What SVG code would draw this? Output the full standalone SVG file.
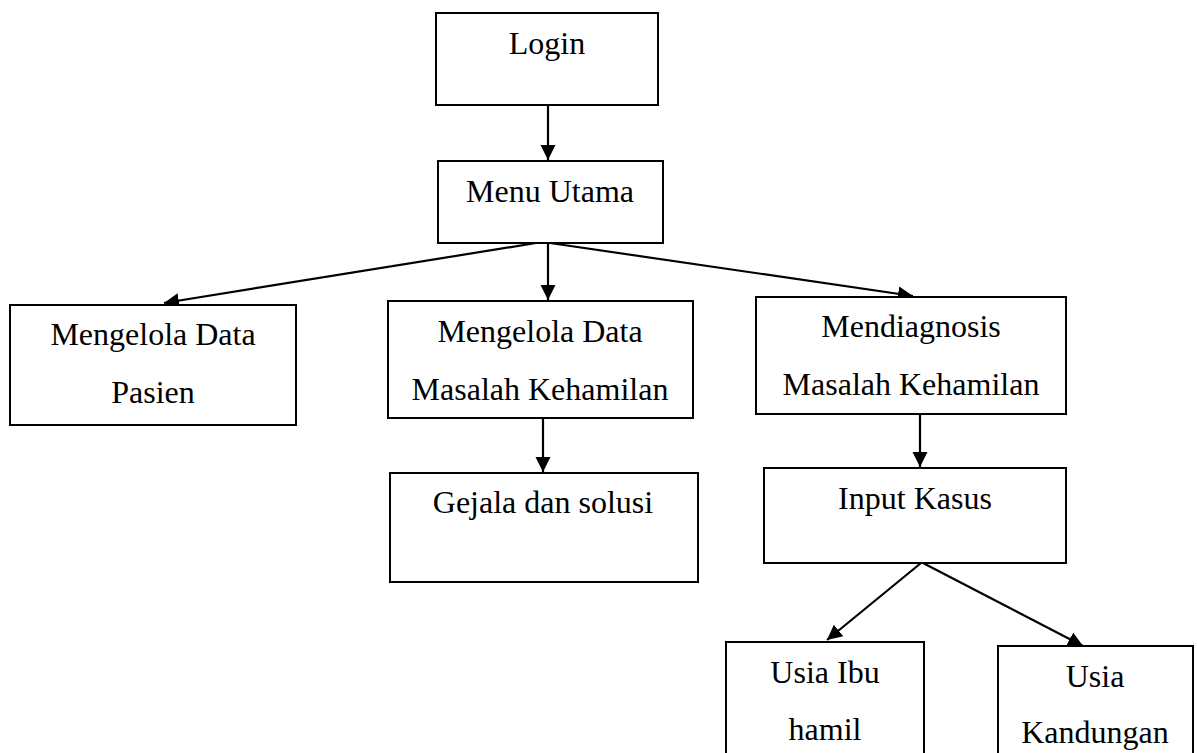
<svg xmlns="http://www.w3.org/2000/svg" width="1197" height="753" viewBox="0 0 1197 753">
<style>
.box{fill:#fff;stroke:#000;stroke-width:2}
.t{font-family:"Liberation Serif","Times New Roman",serif;font-size:32px;fill:#000;text-anchor:middle}
.c{stroke:#000;stroke-width:2.2;fill:none;marker-end:url(#ah)}
</style>
<defs>
<marker id="ah" markerUnits="userSpaceOnUse" markerWidth="16" markerHeight="16" viewBox="0 0 16 16" refX="15" refY="8" orient="auto">
<path d="M0,0.5 L15,8 L0,15.5 Z" fill="#000"/>
</marker>
</defs>
<rect width="1197" height="753" fill="#fff"/>
<g id="connectors">
<line class="c" x1="548" y1="105" x2="548" y2="160"/>
<line class="c" x1="536" y1="243" x2="164" y2="303"/>
<line class="c" x1="548" y1="243" x2="548" y2="300"/>
<line class="c" x1="550" y1="243" x2="913" y2="296"/>
<line class="c" x1="543" y1="418" x2="543" y2="472"/>
<line class="c" x1="920" y1="414" x2="920" y2="467"/>
<line class="c" x1="921" y1="563" x2="827" y2="640"/>
<line class="c" x1="923" y1="563" x2="1083" y2="646"/>
</g>
<g id="login">
<rect class="box" x="436" y="13" width="222" height="92"/>
<text class="t" x="547" y="54">Login</text>
</g>
<g id="menu-utama">
<rect class="box" x="438" y="161" width="225" height="82"/>
<text class="t" x="550" y="202">Menu Utama</text>
</g>
<g id="data-pasien">
<rect class="box" x="10" y="305" width="286" height="120"/>
<text class="t" x="153" y="345">Mengelola Data</text>
<text class="t" x="153" y="403">Pasien</text>
</g>
<g id="data-masalah">
<rect class="box" x="388" y="301" width="305" height="117"/>
<text class="t" x="540" y="342">Mengelola Data</text>
<text class="t" x="540" y="400">Masalah Kehamilan</text>
</g>
<g id="mendiagnosis">
<rect class="box" x="756" y="297" width="310" height="117"/>
<text class="t" x="911" y="337">Mendiagnosis</text>
<text class="t" x="911" y="395">Masalah Kehamilan</text>
</g>
<g id="gejala">
<rect class="box" x="390" y="473" width="308" height="109"/>
<text class="t" x="543" y="513">Gejala dan solusi</text>
</g>
<g id="input-kasus">
<rect class="box" x="764" y="468" width="302" height="95"/>
<text class="t" x="915" y="509">Input Kasus</text>
</g>
<g id="usia-ibu">
<rect class="box" x="726" y="642" width="198" height="130"/>
<text class="t" x="825" y="683">Usia Ibu</text>
<text class="t" x="825" y="740">hamil</text>
</g>
<g id="usia-kandungan">
<rect class="box" x="998" y="646" width="195" height="130"/>
<text class="t" x="1095" y="687">Usia</text>
<text class="t" x="1095" y="743">Kandungan</text>
</g>
</svg>
